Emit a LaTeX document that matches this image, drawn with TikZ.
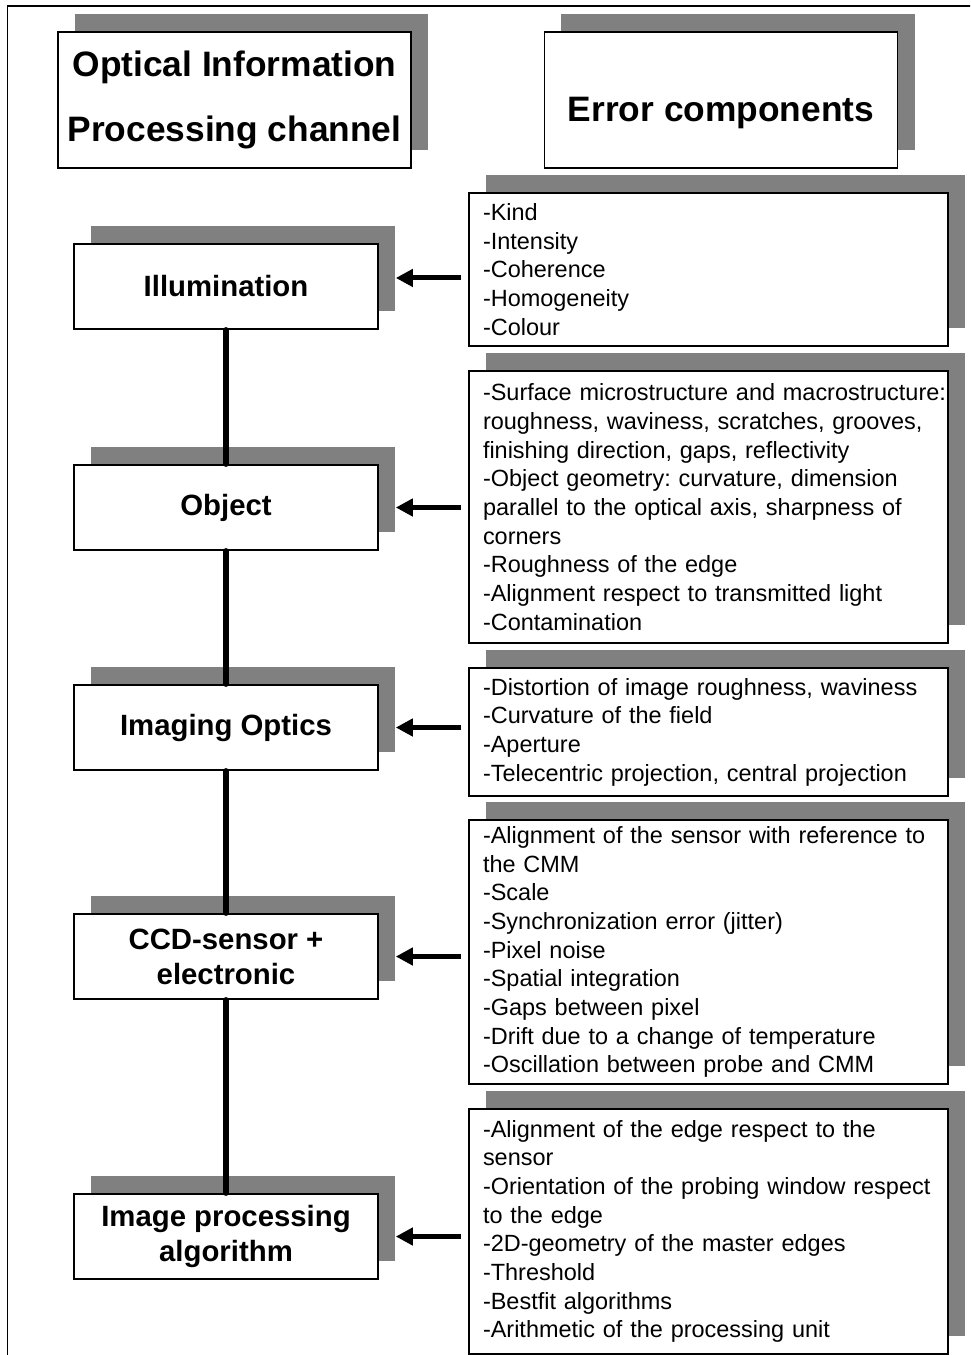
\documentclass[tikz,border=0pt]{standalone}
\usepackage{fontspec}
\setmainfont{Liberation Sans}
\usetikzlibrary{arrows.meta,shadows}
\frenchspacing

\tikzset{
  boxshadow/.style={general shadow={fill=black!50, shadow xshift=12.75pt, shadow yshift=13.5pt}},
  chan/.style={draw, line width=1.2pt, fill=white, boxshadow, inner sep=0pt,
    minimum width=228pt, minimum height=63.75pt, align=center,
    font=\bfseries\fontsize{22pt}{26.25pt}\selectfont},
  head/.style={chan, minimum width=265pt, minimum height=102pt,
    font=\bfseries\fontsize{26.5pt}{48.75pt}\selectfont},
  errbox/.style={draw, line width=1.2pt, fill=white, boxshadow, text width=338.25pt,
    inner xsep=10.5pt, inner ysep=0pt, align=left,
    font=\fontsize{17.6pt}{21.5pt}\selectfont},
  link/.style={line width=4pt, line cap=round},
  feed/.style={line width=3.75pt, -{Triangle[length=12.75pt,width=12.75pt]},
    shorten <=5.25pt, shorten >=12.75pt}
}

\begin{document}
\begin{tikzpicture}[x=0.75pt, y=-0.75pt]
\clip (0,0) rectangle (970,1355);
\draw[line width=1.2pt] (7.5,6) rectangle (1000,1400);
% headers
\node[head] (hchan) at (234.5,100) {Optical Information\\Processing channel};
\node[head, text height=37.5pt, text depth=4.5pt] (herr) at (721,100) {Error components};
% channel
\node[chan] (ill) at (226,286.5) {Illumination};
\node[chan] (obj) at (226,507.5) {Object};
\node[chan] (opt) at (226,727.5) {Imaging Optics};
\node[chan] (ccd) at (226,956.5) {CCD-sensor +\\electronic};
\node[chan] (alg) at (226,1236.5) {Image processing\\algorithm};
% error components
\node[errbox, minimum height=114.75pt] (eill) at (708.5,269.5)
  {-Kind\\-Intensity\\-Coherence\\-Homogeneity\\-Colour};
\node[errbox, minimum height=204pt] (eobj) at (708.5,507)
  {\mbox{-Surface microstructure and macrostructure:}\\roughness, waviness, scratches, grooves,\\finishing direction, gaps, reflectivity\\-Object geometry: curvature, dimension\\parallel to the optical axis, sharpness of\\corners\\-Roughness of the edge\\-Alignment respect to transmitted light\\-Contamination};
\node[errbox, minimum height=96pt] (eopt) at (708.5,732)
  {-Distortion of image roughness, waviness\\-Curvature of the field\\-Aperture\\-Telecentric projection, central projection};
\node[errbox, minimum height=198pt] (eccd) at (708.5,952)
  {-Alignment of the sensor with reference to\\the CMM\\-Scale\\-Synchronization error (jitter)\\-Pixel noise\\-Spatial integration\\-Gaps between pixel\\-Drift due to a change of temperature\\-Oscillation between probe and CMM};
\node[errbox, minimum height=183.75pt] (ealg) at (708.5,1231.5)
  {-Alignment of the edge respect to the\\sensor\\-Orientation of the probing window respect\\to the edge\\-2D-geometry of the master edges\\-Threshold\\-Bestfit algorithms\\-Arithmetic of the processing unit};
% links
\draw[link] (ill) -- (obj);
\draw[link] (obj) -- (opt);
\draw[link] (opt) -- (ccd);
\draw[link] (ccd) -- (alg);
% arrows
\coordinate (illin) at ([yshift=6.4pt]ill.east);
\draw[feed] (eill.west |- illin) -- (illin);
\draw[feed] (eobj.west |- obj.east) -- (obj.east);
\draw[feed] (eopt.west |- opt.east) -- (opt.east);
\draw[feed] (eccd.west |- ccd.east) -- (ccd.east);
\draw[feed] (ealg.west |- alg.east) -- (alg.east);
\end{tikzpicture}
\end{document}
